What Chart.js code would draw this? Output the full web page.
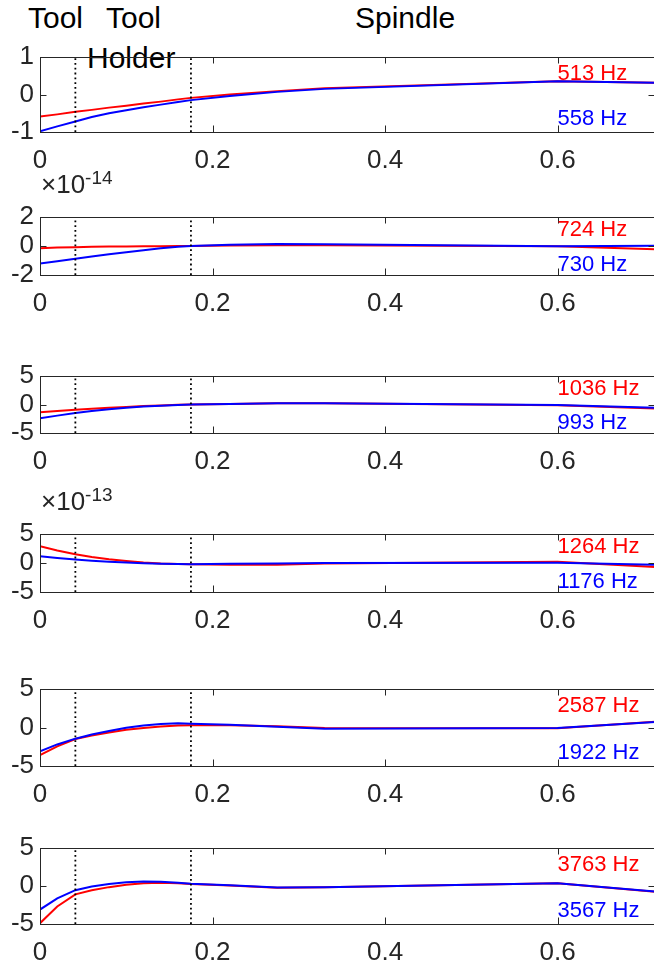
<!DOCTYPE html>
<html>
<head>
<meta charset="utf-8">
<script src="https://cdn.jsdelivr.net/npm/chart.js@4.4.1/dist/chart.umd.min.js"></script>
<style>
  html, body { margin: 0; padding: 0; background: #fff; }
  #fig {
    position: relative;
    width: 654px;
    height: 966px;
    overflow: hidden;
    font-family: "Liberation Sans", Arial, Helvetica, sans-serif;
  }
  #fig canvas { position: absolute; left: 0; }
  .ttl { position: absolute; font-size: 30px; line-height: 1; white-space: nowrap; color: #000; }
  .exp { position: absolute; left: 41px; font-size: 26px; line-height: 1; white-space: nowrap; color: #262626; }
  .exp span { font-size: 19px; position: relative; top: -9px; }
</style>
</head>
<body>
<div id="fig">
  <div class="ttl" style="left:28px;top:3px">Tool</div>
  <div class="ttl" style="left:106px;top:3px">Tool</div>
  <div class="ttl" style="left:355px;top:3px">Spindle</div>
  <div class="ttl" style="left:87px;top:43px">Holder</div>
</div>
<script>
// node positions along the tool / holder / spindle (m)
const xNodes = [0, 0.02, 0.041, 0.06, 0.08, 0.1, 0.12, 0.14, 0.16, 0.175, 0.22, 0.275, 0.33, 0.6, 0.713];
const xMax = 0.713;
const xTicks = [0, 0.2, 0.4, 0.6];
const xTickLabels = ["0", "0.2", "0.4", "0.6"];
const dividers = [0.041, 0.175];

const redP1 = [-0.59, -0.53, -0.46, -0.41, -0.35, -0.3, -0.24, -0.19, -0.13, -0.09, 0.0, 0.09, 0.17, 0.35, 0.31];
const blueP1 = [-0.98, -0.85, -0.72, -0.6, -0.5, -0.42, -0.34, -0.27, -0.2, -0.15, -0.04, 0.07, 0.15, 0.35, 0.31];
const redP2 = [-0.15, -0.11, -0.08, -0.06, -0.04, -0.03, -0.02, -0.01, 0, 0, 0.03, 0.05, 0.05, -0.02, -0.22];
const blueP2 = [-1.2, -1.05, -0.88, -0.72, -0.57, -0.43, -0.29, -0.16, -0.05, 0, 0.08, 0.14, 0.12, -0.02, 0.02];
const redP3 = [-1.35, -1.12, -0.92, -0.75, -0.58, -0.42, -0.28, -0.16, -0.06, 0, 0.1, 0.2, 0.22, -0.15, -0.7];
const blueP3 = [-2.4, -1.95, -1.5, -1.15, -0.85, -0.58, -0.37, -0.2, -0.07, 0, 0.1, 0.2, 0.22, -0.1, -0.55];
const redP4 = [2.9, 2.15, 1.5, 1.05, 0.65, 0.35, 0.1, -0.08, -0.18, -0.22, -0.3, -0.3, -0.1, 0.2, -0.7];
const blueP4 = [1.15, 0.85, 0.6, 0.4, 0.22, 0.08, -0.03, -0.12, -0.18, -0.2, -0.15, -0.08, 0, 0.05, -0.3];
const redP5 = [-3.6, -2.45, -1.5, -1.05, -0.65, -0.3, -0.05, 0.12, 0.25, 0.3, 0.3, 0.15, -0.05, -0.1, 0.75];
const blueP5 = [-3.1, -2.2, -1.45, -0.9, -0.45, -0.03, 0.25, 0.45, 0.54, 0.5, 0.35, 0.1, -0.15, -0.08, 0.72];
const redP6 = [-4.9, -2.7, -1.1, -0.55, -0.15, 0.15, 0.35, 0.42, 0.35, 0.25, 0.08, -0.22, -0.15, 0.36, -0.75];
const blueP6 = [-3.1, -1.64, -0.55, -0.08, 0.25, 0.48, 0.58, 0.55, 0.42, 0.3, 0.1, -0.2, -0.15, 0.36, -0.73];

const redSeries = [redP1, redP2, redP3, redP4, redP5, redP6];
const blueSeries = [blueP1, blueP2, blueP3, blueP4, blueP5, blueP6];
const redFreq = ["513 Hz", "724 Hz", "1036 Hz", "1264 Hz", "2587 Hz", "3763 Hz"];
const blueFreq = ["558 Hz", "730 Hz", "993 Hz", "1176 Hz", "1922 Hz", "3567 Hz"];
const yLimits = [1, 2, 5, 5, 5, 5];
const exponents = [null, "-14", null, "-13", null, null];

// layout: plot box top / bottom in page pixels
const panelBoxes = [[42, 132], [202, 275], [361, 433], [519, 592], [674, 766], [833, 924]];
const FONT = '"Liberation Sans", Arial, Helvetica, sans-serif';
const AXIS = "#262626";
const PAD_TOP = 4;
const X_AXIS_H = 48;

const framePlugin = {
  id: "frame",
  afterDatasetsDraw(chart, args, opts) {
    const { ctx, chartArea: a, scales } = chart;
    const x = scales.x, y = scales.y;
    ctx.save();
    ctx.strokeStyle = AXIS;
    ctx.lineWidth = 1;
    ctx.strokeRect(a.left + 0.5, a.top + 0.5, a.right - a.left, a.bottom - a.top);
    ctx.beginPath();
    xTicks.forEach((v) => {
      const px = Math.round(x.getPixelForValue(v)) + 0.5;
      ctx.moveTo(px, a.top);
      ctx.lineTo(px, a.top + 6.5);
      ctx.moveTo(px, a.bottom);
      ctx.lineTo(px, a.bottom - 6.5);
    });
    const py = Math.round(y.getPixelForValue(0)) + 0.5;
    ctx.moveTo(a.left, py);
    ctx.lineTo(a.left + 6.5, py);
    ctx.moveTo(a.right, py);
    ctx.lineTo(a.right - 6.5, py);
    ctx.stroke();

    // frequency labels
    ctx.font = `22px ${FONT}`;
    ctx.textAlign = "left";
    ctx.textBaseline = "middle";
    const lx = x.getPixelForValue(0.6);
    ctx.fillStyle = "#ff0000";
    ctx.fillText(opts.red, lx, y.getPixelForValue(0.55 * opts.lim));
    ctx.fillStyle = "#0000ff";
    ctx.fillText(opts.blue, lx, y.getPixelForValue(-0.65 * opts.lim));
    ctx.restore();
  },
};

const fig = document.getElementById("fig");
const toPoints = (ys) => ys.map((v, i) => ({ x: xNodes[i], y: v }));

panelBoxes.forEach(([top, bottom], i) => {
  const lim = yLimits[i];
  const h = bottom - top + PAD_TOP + X_AXIS_H;
  const canvas = document.createElement("canvas");
  canvas.width = 660;
  canvas.height = h;
  canvas.style.width = "660px";
  canvas.style.height = h + "px";
  canvas.style.top = top - PAD_TOP + "px";
  fig.appendChild(canvas);

  if (exponents[i]) {
    const el = document.createElement("div");
    el.className = "exp";
    el.style.top = top - 31 + "px";
    el.innerHTML = "\u00d710<span>" + exponents[i] + "</span>";
    fig.appendChild(el);
  }

  const dividerSets = dividers.map((d) => ({
    data: [{ x: d, y: -lim }, { x: d, y: lim }],
    borderColor: "#000",
    borderWidth: 1.8,
    borderDash: [1.8, 3],
    pointRadius: 0,
    order: 0,
  }));

  new Chart(canvas, {
    type: "line",
    data: {
      datasets: [
        {
          data: toPoints(blueSeries[i]),
          borderColor: "#0000ff",
          borderWidth: 2,
          pointRadius: 0,
          tension: 0,
          order: 1,
        },
        {
          data: toPoints(redSeries[i]),
          borderColor: "#ff0000",
          borderWidth: 2,
          pointRadius: 0,
          tension: 0,
          order: 2,
        },
        ...dividerSets,
      ],
    },
    options: {
      responsive: false,
      animation: false,
      events: [],
      layout: { padding: { top: PAD_TOP, right: 5, left: 0, bottom: 0 } },
      plugins: {
        legend: { display: false },
        tooltip: { enabled: false },
        frame: { red: redFreq[i], blue: blueFreq[i], lim: lim },
      },
      scales: {
        x: {
          type: "linear",
          min: 0,
          max: xMax,
          afterBuildTicks: (s) => {
            s.ticks = xTicks.map((v) => ({ value: v }));
          },
          afterFit: (s) => {
            s.height = X_AXIS_H;
          },
          grid: { display: false, drawTicks: false },
          border: { display: false },
          ticks: {
            autoSkip: false,
            maxRotation: 0,
            padding: 16,
            color: AXIS,
            font: { family: FONT, size: 26, lineHeight: 1 },
            callback: (v, idx) => xTickLabels[idx],
          },
        },
        y: {
          type: "linear",
          min: -lim,
          max: lim,
          afterBuildTicks: (s) => {
            s.ticks = [-lim, 0, lim].map((v) => ({ value: v }));
          },
          afterFit: (s) => {
            s.width = 40;
          },
          grid: { display: false, drawTicks: false },
          border: { display: false },
          ticks: {
            autoSkip: false,
            padding: 6,
            color: AXIS,
            font: { family: FONT, size: 26, lineHeight: 1 },
            callback: (v) => String(v),
          },
        },
      },
    },
    plugins: [framePlugin],
  });
});
</script>
</body>
</html>
